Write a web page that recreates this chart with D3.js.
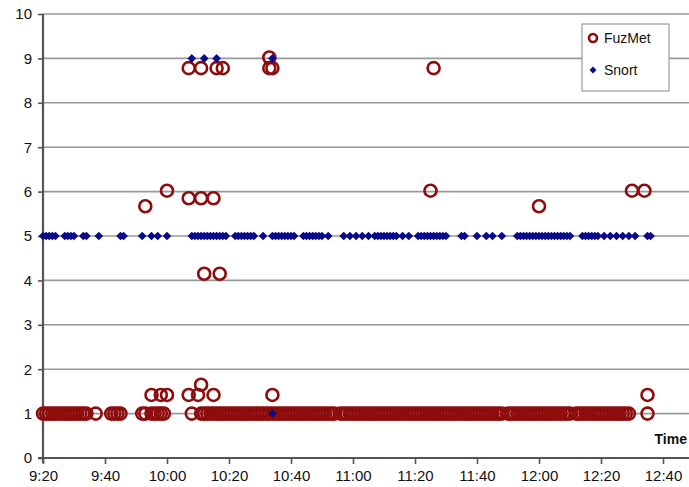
<!DOCTYPE html>
<html>
<head>
<meta charset="utf-8">
<style>
  body { margin: 0; background: #fff; }
  svg text { font-family: "Liberation Sans", Arial, sans-serif; }
</style>
</head>
<body>
  <svg id="svg" width="689" height="487"></svg>

  <script src="https://cdn.jsdelivr.net/npm/d3@7/dist/d3.min.js"></script>
  <script type="text/javascript">
  // tick labels
  const xTicks = ["9:20", "9:40", "10:00", "10:20", "10:40", "11:00", "11:20", "11:40", "12:00", "12:20", "12:40"];
  const yTicks = [0, 1, 2, 3, 4, 5, 6, 7, 8, 9, 10];

  // FuzMet readings at value 1 (times)
  const fuzmetOne = (
    "9:20 9:21 9:22 9:23 9:24 9:25 9:26 9:27 9:28 9:29 9:30 9:31 9:32 9:33 9:34 9:37 " +
    "9:42 9:43 9:44 9:45 9:52 9:53 9:55 9:56 9:57 9:58 9:59 10:08 " +
    "10:11 10:12 10:13 10:14 10:15 10:16 10:17 10:18 10:19 10:20 10:21 10:22 10:23 10:24 10:25 " +
    "10:26 10:27 10:28 10:29 10:30 10:31 10:32 10:33 10:34 10:35 10:36 10:37 10:38 10:39 10:40 " +
    "10:41 10:42 10:43 10:44 10:45 10:46 10:47 10:48 10:49 10:50 10:51 10:52 10:53 10:54 10:56 " +
    "10:57 10:58 10:59 11:00 11:01 11:02 11:03 11:04 11:05 11:06 11:07 11:08 11:09 11:10 11:11 " +
    "11:12 11:13 11:14 11:15 11:16 11:17 11:18 11:19 11:20 11:21 11:22 11:23 11:24 11:25 11:26 " +
    "11:27 11:28 11:29 11:30 11:31 11:32 11:33 11:34 11:35 11:36 11:37 11:38 11:39 11:40 11:41 " +
    "11:42 11:43 11:44 11:45 11:46 11:47 11:48 11:50 11:51 11:52 11:53 11:54 11:55 11:56 11:57 " +
    "11:58 11:59 12:00 12:01 12:02 12:03 12:04 12:05 12:06 12:07 12:08 12:09 12:10 12:12 12:13 " +
    "12:14 12:15 12:16 12:17 12:18 12:19 12:20 12:21 12:22 12:23 12:24 12:25 12:26 12:27 12:28 " +
    "12:29 12:35").split(" ");

  // FuzMet readings away from 1: [time, value]
  const fuzmetOther = [
    ["9:53", 5.67], ["10:00", 6.02], ["10:07", 5.85], ["10:11", 5.85], ["10:15", 5.85],
    ["10:07", 8.78], ["10:11", 8.78], ["10:16", 8.78], ["10:18", 8.78],
    ["10:33", 9.02], ["10:33", 8.78], ["10:34", 8.78],
    ["11:25", 6.02], ["11:26", 8.78], ["12:00", 5.67], ["12:30", 6.02], ["12:34", 6.02],
    ["10:12", 4.15], ["10:17", 4.15],
    ["9:55", 1.42], ["9:58", 1.42], ["10:00", 1.42], ["10:07", 1.42], ["10:10", 1.42],
    ["10:15", 1.42], ["10:11", 1.65], ["10:34", 1.42], ["12:35", 1.42]
  ];

  // Snort readings at value 5 (times)
  const snortFive = (
    "9:20 9:21 9:22 9:23 9:24 9:27 9:28 9:29 9:30 9:33 9:34 9:38 9:45 9:46 " +
    "9:52 9:55 9:57 10:00 10:08 10:09 10:10 10:11 10:12 10:13 10:14 10:15 10:16 10:17 10:18 10:19 " +
    "10:22 10:23 10:24 10:25 10:26 10:27 10:28 10:31 10:34 10:35 10:36 10:37 10:38 10:39 10:40 10:41 " +
    "10:44 10:45 10:46 10:47 10:48 10:49 10:50 10:52 10:57 10:59 11:01 11:03 11:05 " +
    "11:07 11:08 11:09 11:10 11:11 11:12 11:13 11:14 11:16 11:18 " +
    "11:21 11:22 11:23 11:24 11:25 11:26 11:27 11:28 11:29 11:30 11:35 11:36 11:40 11:43 11:45 11:48 " +
    "11:53 11:54 11:55 11:56 11:57 11:58 11:59 12:00 12:01 12:02 12:03 12:04 12:05 12:06 12:07 12:08 " +
    "12:09 12:10 12:14 12:15 12:16 12:17 12:18 12:19 12:21 12:23 12:25 12:27 12:29 12:31 12:35 12:36"
  ).split(" ");

  // Snort readings away from 5: [time, value]
  const snortOther = [
    ["10:08", 9], ["10:12", 9], ["10:16", 9], ["10:34", 9], ["10:34", 1]
  ];

  const parse = d3.timeParse("%H:%M");
  const plotLeft = 43, plotTop = 14, plotBottom = 458, plotRight = 689;

  const x = d3.scaleTime()
    .domain([parse("9:20"), parse("12:40")])
    .range([plotLeft, 663]);
  const y = d3.scaleLinear().domain([0, 10]).range([plotBottom, plotTop]);

  const svg = d3.select("#svg");

  // grid lines
  svg.append("g").selectAll("line").data(yTicks.slice(1)).enter().append("line")
    .attr("x1", plotLeft).attr("x2", plotRight)
    .attr("y1", d => y(d)).attr("y2", d => y(d))
    .style("stroke", "#999")
    .style("stroke-width", "1.6px");

  // y axis
  const yAxis = svg.append("g")
    .attr("transform", "translate(" + plotLeft + ",0)")
    .call(d3.axisLeft(y).tickValues(yTicks).tickSize(5).tickPadding(6));
  yAxis.select(".domain").remove();
  yAxis.append("line").attr("x1", 0).attr("x2", 0).attr("y1", plotTop).attr("y2", plotBottom + 5)
    .style("stroke", "#555").style("stroke-width", "2.2px");

  // x axis
  const xAxis = svg.append("g")
    .attr("transform", "translate(0," + plotBottom + ")")
    .call(d3.axisBottom(x).tickValues(xTicks.map(parse)).tickFormat(d3.timeFormat("%-H:%M"))
      .tickSize(6).tickPadding(6));
  xAxis.select(".domain").remove();
  xAxis.append("line").attr("x1", plotLeft - 5).attr("x2", plotRight).attr("y1", 0).attr("y2", 0)
    .style("stroke", "#555").style("stroke-width", "2.2px");

  svg.selectAll(".tick line").style("stroke", "#555").style("stroke-width", "1.6px");
  svg.selectAll(".tick text")
    .attr("font-size", 15)
    .attr("fill", "#111")
    .style("font-family", "'Liberation Sans', Arial, sans-serif");

  // FuzMet circles
  const fuzmet = fuzmetOne.map(t => [t, 1]).concat(fuzmetOther);
  svg.append("g").selectAll("circle").data(fuzmet).enter().append("circle")
    .attr("cx", d => x(parse(d[0])))
    .attr("cy", d => y(d[1]))
    .attr("r", 6)
    .style("fill", "none")
    .style("stroke", "#8e0c0c")
    .style("stroke-width", "2.6px");

  // Snort diamonds
  const snort = snortFive.map(t => [t, 5]).concat(snortOther);
  const diamond = d3.symbol().type(d3.symbolSquare).size(38);
  svg.append("g").selectAll("path").data(snort).enter().append("path")
    .attr("d", diamond)
    .attr("transform", d => "translate(" + x(parse(d[0])) + "," + y(d[1]) + ") rotate(45)")
    .style("fill", "#0a0a8c");

  // axis title
  svg.append("text")
    .attr("x", 687).attr("y", 444)
    .attr("text-anchor", "end")
    .attr("font-size", 14)
    .attr("font-weight", "bold")
    .attr("fill", "#111")
    .text("Time");

  // legend
  const lg = svg.append("g");
  lg.append("rect")
    .attr("x", 582).attr("y", 24).attr("width", 87).attr("height", 67)
    .style("fill", "#fff").style("stroke", "#888").style("stroke-width", "1px");
  lg.append("circle").attr("cx", 593).attr("cy", 38).attr("r", 4)
    .style("fill", "none").style("stroke", "#8e0c0c").style("stroke-width", "2.6px");
  lg.append("path").attr("d", d3.symbol().type(d3.symbolSquare).size(24))
    .attr("transform", "translate(593,70) rotate(45)")
    .style("fill", "#0a0a8c");
  lg.append("text").attr("x", 604).attr("y", 43).attr("font-size", 14).attr("fill", "#111").text("FuzMet");
  lg.append("text").attr("x", 604).attr("y", 75).attr("font-size", 14).attr("fill", "#111").text("Snort");
  </script>
</body>
</html>
